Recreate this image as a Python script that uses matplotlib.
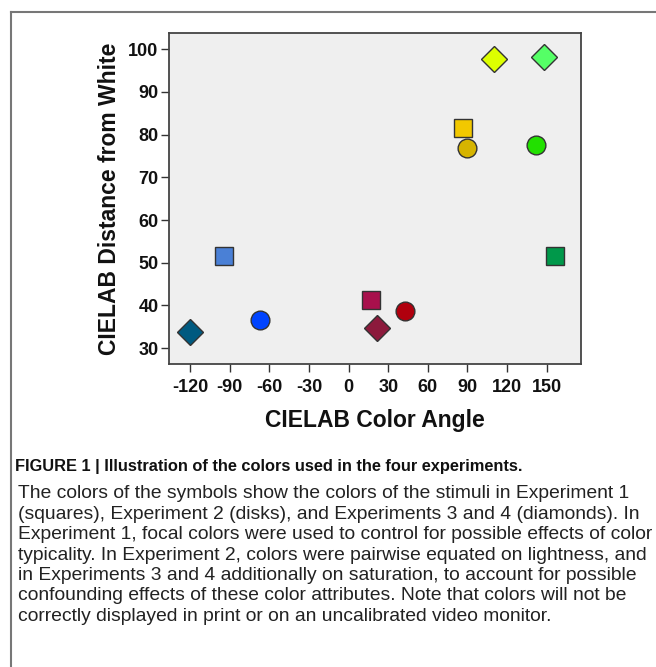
import numpy as np
import matplotlib
matplotlib.use('Agg')
from matplotlib import pyplot as plt
from matplotlib.lines import Line2D

# Experiment 1 (squares)
sq_x = [-94, 17, 87, 156]
sq_y = [51.7, 41.4, 81.5, 51.7]
sq_c = ['#4a80d6', '#a8104c', '#f2c800', '#00984a']

# Experiment 2 (disks)
disk_x = [-67, 43, 90, 142]
disk_y = [36.6, 38.6, 76.9, 77.6]
disk_c = ['#0044ff', '#b0000e', '#d6b400', '#22e000']

# Experiments 3 and 4 (diamonds)
dia_x = [-120, 21.5, 110, 148]
dia_y = [33.8, 34.8, 97.7, 98.2]
dia_c = ['#005a80', '#8c1a3c', '#ddff00', '#55ff66']

xticks = [-120, -90, -60, -30, 0, 30, 60, 90, 120, 150]
yticks = [30, 40, 50, 60, 70, 80, 90, 100]

title = 'FIGURE 1 | Illustration of the colors used in the four experiments.'
body = [
    'The colors of the symbols show the colors of the stimuli in Experiment 1',
    '(squares), Experiment 2 (disks), and Experiments 3 and 4 (diamonds). In',
    'Experiment 1, focal colors were used to control for possible effects of color',
    'typicality. In Experiment 2, colors were pairwise equated on lightness, and',
    'in Experiments 3 and 4 additionally on saturation, to account for possible',
    'confounding effects of these color attributes. Note that colors will not be',
    'correctly displayed in print or on an uncalibrated video monitor.',
]

plt.rcParams['font.family'] = ['Liberation Sans', 'DejaVu Sans']
plt.rcParams['axes.unicode_minus'] = False

W, H = 656, 667
fig = plt.figure(figsize=(W / 100, H / 100), dpi=100)
fig.patch.set_facecolor('white')

ax = fig.add_axes([169 / W, 1 - 364 / H, (581 - 169) / W, (364 - 33) / H])
ax.set_facecolor('#efefef')

ms = 13.5
for x, y, c in zip(sq_x, sq_y, sq_c):
    ax.plot(x, y, marker='s', ms=ms, mfc=c, mec='#333333', mew=1, ls='none')
for x, y, c in zip(disk_x, disk_y, disk_c):
    ax.plot(x, y, marker='o', ms=ms, mfc=c, mec='#333333', mew=1, ls='none')
for x, y, c in zip(dia_x, dia_y, dia_c):
    ax.plot(x, y, marker='D', ms=ms, mfc=c, mec='#333333', mew=1, ls='none')

ax.set_xlim(-136, 176)
ax.set_ylim(26.3, 103.8)
ax.set_xticks(xticks)
ax.set_yticks(yticks)
ax.tick_params(direction='out', length=6, width=1, color='#333333',
               labelsize=13, pad=1.5)
ax.tick_params(axis='x', pad=5)
for lab in ax.get_xticklabels() + ax.get_yticklabels():
    lab.set_fontweight('bold')
    lab.set_color('#111111')
for s in ax.spines.values():
    s.set_color('#444444')
    s.set_linewidth(1.3)

ax.set_xlabel('CIELAB Color Angle', fontsize=16.5, fontweight='bold',
              color='#111111', labelpad=9)
ax.set_ylabel('CIELAB Distance from White', fontsize=16.5, fontweight='bold',
              color='#111111', labelpad=5)

# frame around figure + caption
fig.add_artist(Line2D([11 / W, 1], [1 - 12 / H, 1 - 12 / H], color='#777777', lw=1.5))
fig.add_artist(Line2D([11 / W, 11 / W], [1 - 12 / H, 0], color='#777777', lw=1.5))

fig.text(15 / W, 1 - 466 / H, title, fontsize=11.8, fontweight='bold',
         color='#111111', va='center', ha='left')
for i, line in enumerate(body):
    y = 494 + i * 20.4
    fig.text(18 / W, 1 - y / H, line, fontsize=13.9,
             color='#222222', va='center', ha='left')

fig.savefig('out.png', dpi=100, facecolor='white')
